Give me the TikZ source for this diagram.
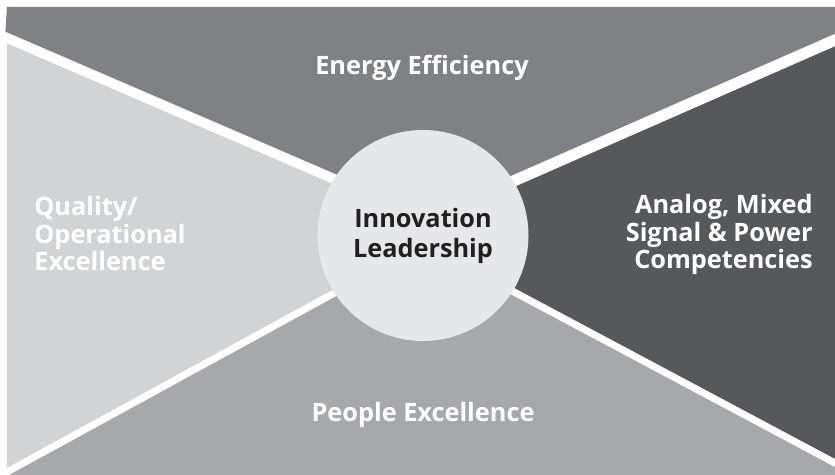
\documentclass[tikz,border=0pt]{standalone}
\usepackage{fontspec}
\setmainfont{Open Sans}
\usepackage{tikz}
\usetikzlibrary{calc}

\definecolor{fieldtop}{RGB}{128,129,133}
\definecolor{fieldleft}{RGB}{210,211,213}
\definecolor{fieldright}{RGB}{87,88,91}
\definecolor{fieldbottom}{RGB}{167,168,171}
\definecolor{hubfill}{RGB}{230,231,232}
\definecolor{hubtext}{RGB}{35,31,32}

\begin{document}
\begin{tikzpicture}[x=0.02cm,y=-0.02cm,
    band/.style={white,line cap=butt},
    fieldlabel/.style={white,font=\bfseries\fontsize{14.4}{15.9}\selectfont,inner sep=0pt}]

  \useasboundingbox (0,0) rectangle (835,475);

  % Outer corners and the ends of the white bands
  \coordinate (tl) at (7,7);
  \coordinate (tr) at (835,7);
  \coordinate (br) at (835,475);
  \coordinate (bl) at (7,475);
  \coordinate (ulend) at (5,37);
  \coordinate (urend) at (835,40);
  \coordinate (llend) at (7,472);
  \coordinate (lrend) at (835,463);

  % Where the bands meet (hidden under the hub)
  \coordinate (topapex) at (427,219);
  \coordinate (botapex) at (424,244);
  \coordinate (leftapex) at (451,229);
  \coordinate (rightapex) at (399,230);

  % The four fields
  \fill[fieldtop] (tl) -- (tr) -- (urend) -- (topapex) -- (ulend) -- cycle;
  \fill[fieldleft] (7,37) -- (leftapex) -- (llend) -- cycle;
  \fill[fieldright] (urend) -- (rightapex) -- (lrend) -- cycle;
  \fill[fieldbottom] (llend) -- (botapex) -- (lrend) -- (br) -- (bl) -- cycle;

  % White bands between the fields
  \draw[band,line width=5.6pt] ($(ulend)!-0.02!(topapex)$) -- (topapex);
  \draw[band,line width=6.4pt] ($(urend)!-0.02!(topapex)$) -- (topapex);
  \draw[band,line width=4pt] ($(llend)!-0.03!(botapex)$) -- (botapex);
  \draw[band,line width=4pt] ($(lrend)!-0.03!(botapex)$) -- (botapex);

  % Hub in the middle
  \node[circle,fill=hubfill,minimum size=211*0.02cm,inner sep=0pt,align=center,
        text=hubtext,font=\bfseries\fontsize{14.4}{17}\selectfont]
    (hub) at (423,235.5) {Innovation\\Leadership};

  % Field labels (multi-line ones sit on their last baseline)
  \node[fieldlabel,anchor=base] (energy) at (422,75) {Energy Efficiency};
  \node[fieldlabel,anchor=base] (people) at (423,422) {People Excellence};
  \node[fieldlabel,anchor=base west,align=left] (quality) at (34,271)
    {Quality/\\Operational\\Excellence};
  \node[fieldlabel,anchor=base east,align=right] (analog) at (813,269)
    {Analog, Mixed\\Signal \& Power\\Competencies};

\end{tikzpicture}
\end{document}
